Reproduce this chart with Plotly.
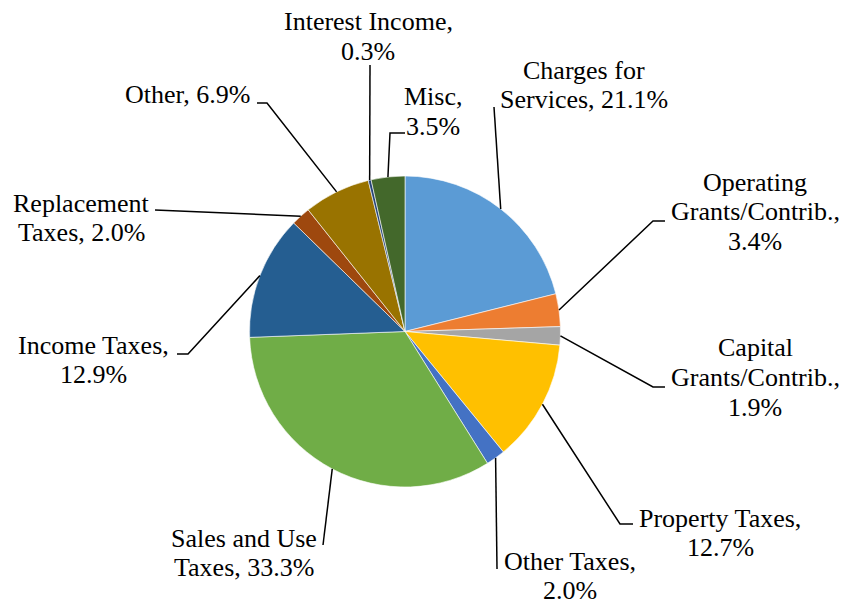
import math
import plotly.graph_objects as go

# ---- data ----
categories = ["Charges for Services", "Operating Grants/Contrib.", "Capital Grants/Contrib.",
              "Property Taxes", "Other Taxes", "Sales and Use Taxes", "Income Taxes",
              "Replacement Taxes", "Other", "Interest Income", "Misc"]
values = [21.1, 3.4, 1.9, 12.7, 2.0, 33.3, 12.9, 2.0, 6.9, 0.3, 3.5]
colors = ["#5B9BD5", "#ED7D31", "#A5A5A5", "#FFC000", "#4472C4", "#70AD47",
          "#255E91", "#9E480E", "#997300", "#264478", "#43682B"]
label_lines = [
    ["Charges for", "Services, {v}"],
    ["Operating", "Grants/Contrib.,", "{v}"],
    ["Capital", "Grants/Contrib.,", "{v}"],
    ["Property Taxes,", "{v}"],
    ["Other Taxes,", "{v}"],
    ["Sales and Use", "Taxes, {v}"],
    ["Income Taxes,", "{v}"],
    ["Replacement", "Taxes, {v}"],
    ["Other, {v}"],
    ["Interest Income,", "{v}"],
    ["Misc,", "{v}"],
]

# ---- layout (pixels) ----
W, H = 844, 604
CX, CY, R = 405, 331.5, 155.5
label_pos = [(584, 70), (755, 182), (755, 348), (720, 518), (570, 561),
             (244, 538), (93, 345), (81, 203), (187, 95), (368, 22), (433, 97)]
leader_pts = [
    [(494, 107)],
    [(653, 221), (665, 221)],
    [(653, 387), (665, 387)],
    [(620, 524), (633, 524)],
    [(497, 569)],
    [(323, 545)],
    [(188, 354), (177, 354)],
    [(155, 210)],
    [(267, 103), (257, 103)],
    [(370, 65)],
    [(390, 133), (405, 133)],
]
LINE_H = 29.5
SERIF = "Liberation Serif"


def px(x):
    return x / W


def py(y):
    return 1 - y / H


fig = go.Figure()
# empty cartesian layer (hidden) so the page builds the usual subplot structure
fig.add_trace(go.Scatter(x=[], y=[], showlegend=False, hoverinfo="skip"))
fig.add_trace(go.Pie(
    labels=categories, values=values, sort=False, direction="clockwise", rotation=0,
    marker=dict(colors=colors, line=dict(color="white", width=0.6)),
    textinfo="none", hoverinfo="label+percent",
    domain=dict(x=[px(CX - R), px(CX + R)], y=[py(CY + R), py(CY - R)]),
    showlegend=False,
))

total = sum(values)
cum = 0.0
for i, v in enumerate(values):
    mid = (cum + v / 2) / total * 2 * math.pi
    cum += v
    sx, sy = CX + R * math.sin(mid), CY - R * math.cos(mid)
    pts = [(sx, sy)] + leader_pts[i]
    path = "M " + " L ".join(f"{px(x):.5f},{py(y):.5f}" for x, y in pts)
    fig.add_shape(type="path", xref="paper", yref="paper", path=path,
                  line=dict(color="black", width=1.5))
    lx, ly = label_pos[i]
    for k, line in enumerate(label_lines[i]):
        fig.add_annotation(x=px(lx), y=py(ly + k * LINE_H), xref="paper", yref="paper",
                           text=line.format(v=f"{v:.1f}%"), showarrow=False,
                           xanchor="center", yanchor="middle",
                           font=dict(family=SERIF, size=26, color="black"))

fig.update_layout(width=W, height=H, margin=dict(l=0, r=0, t=0, b=0),
                  paper_bgcolor="white", plot_bgcolor="white",
                  xaxis=dict(visible=False), yaxis=dict(visible=False),
                  font=dict(family=SERIF))
fig.write_html("out.html", config={"displayModeBar": False},
               post_script="document.body.style.margin='0';document.body.style.overflow='hidden';")
